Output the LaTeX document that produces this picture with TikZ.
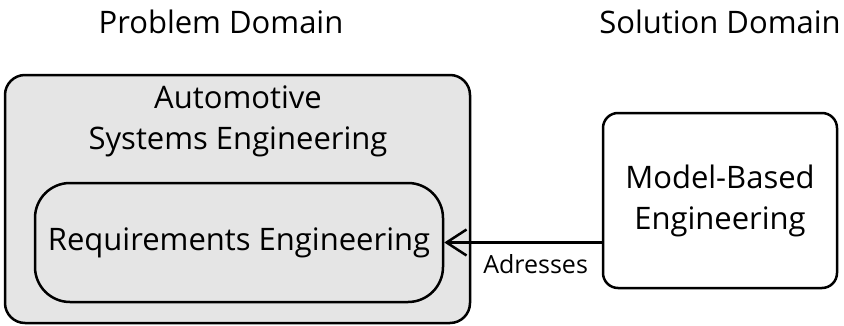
\documentclass[tikz,border=0pt]{standalone}
\usepackage{fontspec}
\setmainfont{Open Sans}
\usetikzlibrary{arrows.meta,positioning}

\begin{document}
\begin{tikzpicture}[x=1pt,y=1pt,<-,>={Straight Barb[length=20pt,width=26pt,line width=2.5pt]},
                    line width=2.5pt,
                    font=\fontsize{31}{41}\selectfont,
                    domain node/.style={rectangle,draw,align=center,fill=black!10},
                    title node/.style={anchor=base,inner sep=0pt}]
  \useasboundingbox (0,0) rectangle (844,325);

  \node[title node] (pd) at (221,292) {Problem Domain};
  \node[title node] (sd) at (720,292) {Solution Domain};

  \node[domain node,minimum width=465pt,minimum height=248pt,rounded corners=20pt] (ase) at (237.5,126) {};
  \node[align=center,inner sep=0pt,anchor=north] (asetitle) at (238,241) {Automotive\\Systems Engineering};
  \node[domain node,minimum width=408pt,minimum height=119pt,rounded corners=35pt] (re) at (239,82.5) {Requirements Engineering};
  \node[domain node,fill=white,minimum width=234pt,minimum height=175pt,rounded corners=15pt] (mbe) at (720,124.5) {Model-Based\\Engineering};

  \path[every node/.style={font=\fontsize{25}{30}\selectfont}]
    (re.east) edge node[below=7pt,pos=0.58] {Adresses} (re.east -| mbe.west);
\end{tikzpicture}
\end{document}
